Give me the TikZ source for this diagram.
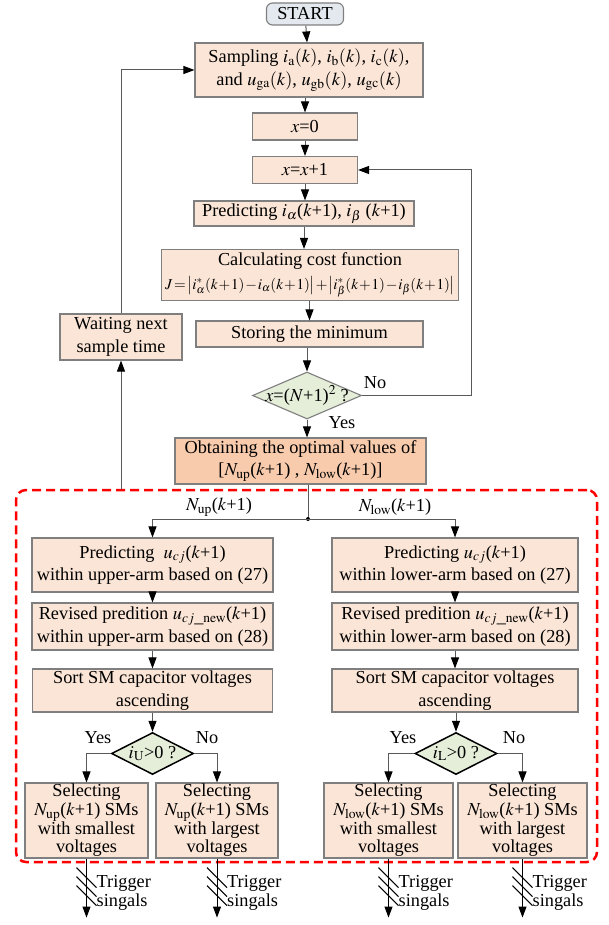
\documentclass[tikz,border=0pt]{standalone}
\usepackage{mathptmx}
\usepackage{fontspec}
\setmainfont{Liberation Serif}
\usetikzlibrary{arrows.meta,shapes.geometric,calc}

\definecolor{boxfill}{HTML}{FBE5D6}
\definecolor{optfill}{HTML}{F8CBAD}
\definecolor{decfill}{HTML}{E5EED9}
\definecolor{startfill}{HTML}{E4E9EF}
\definecolor{edgegray}{HTML}{7F7F7F}
\definecolor{wiregray}{HTML}{595959}
\definecolor{regionred}{HTML}{FF0000}

\newcommand{\fsz}{\fontsize{18.3}{22.5}\selectfont}
\newcommand{\fsel}{\fontsize{18.3}{18.6}\selectfont}
\newcommand{\kpo}{($k$+1)}
\newcommand{\costJ}{{\medmuskip=1mu\thickmuskip=2mu
  $J=\bigl|i_{\alpha}^{*}(k+1)-i_{\alpha}(k+1)\bigr|+\bigl|i_{\beta}^{*}(k+1)-i_{\beta}(k+1)\bigr|$}}

\begin{document}
\begin{tikzpicture}[x=1pt,y=-1pt,
  box/.style={draw=edgegray, fill=boxfill, line width=1.1pt, inner sep=0pt,
              align=center, font=\fsz},
  selbox/.style={box, font=\fsel, minimum height=75pt},
  startbox/.style={draw=edgegray, fill=startfill, line width=1.1pt, rounded corners=6pt,
              inner sep=0pt, minimum width=77pt, minimum height=22pt, font=\fsz},
  dec/.style={diamond, draw=edgegray, fill=decfill, line width=1.1pt, inner sep=0pt},
  decb/.style={dec, draw=black, line width=1.5pt},
  wire/.style={draw=wiregray, line width=1pt},
  arr/.style={wire, -{Triangle[length=11pt,width=8pt,color=black]}},
  trig/.style={draw=black, line width=1pt, -{Triangle[length=11pt,width=8pt,color=black]}},
  lbl/.style={font=\fsz, inner sep=0pt},
  region/.style={draw=regionred, line width=2.5pt, dash pattern=on 9pt off 5pt,
              rounded corners=10pt, inner sep=0pt}
]
\useasboundingbox (0,0) rectangle (609,925);

% ---- main loop ----
\node[startbox] (start) at (305,14) {START};
\node[box, minimum width=228pt, minimum height=54pt] (samp) at (309,70)
  {Sampling $i_{\mathrm{a}}(k)$, $i_{\mathrm{b}}(k)$, $i_{\mathrm{c}}(k)$,\\
   and $u_{\mathrm{ga}}(k)$, $u_{\mathrm{gb}}(k)$, $u_{\mathrm{gc}}(k)$};
\node[box, minimum width=105pt, minimum height=27pt] (xzero) at (305,126.5) {$x$=0};
\node[box, minimum width=105pt, minimum height=27pt] (xinc) at (305,170) {$x$=$x$+1};
\node[box, minimum width=220pt, minimum height=25pt] (pred) at (304,213.5)
  {Predicting $i_{\alpha}$\kpo, $i_{\beta}$ \kpo};
\node[box, minimum width=297pt, minimum height=51pt] (cost) at (310,275)
  {Calculating cost function\\[1pt]
   \resizebox{290pt}{!}{\costJ}};
\node[box, minimum width=227pt, minimum height=26pt] (store) at (309.5,334) {Storing the minimum};
\node[dec, minimum width=109pt, minimum height=47pt] (chk) at (307,395.5) {};
\node[lbl] at (chk) {$x$=($N$+1)$^2$ ?};
\node[box, fill=optfill, minimum width=251pt, minimum height=46pt] (opt) at (300.5,461)
  {Obtaining the optimal values of\\
   \relax[$N_{\mathrm{up}}$\kpo\ , $N_{\mathrm{low}}$\kpo]};
\node[box, minimum width=122pt, minimum height=46pt] (wait) at (121,337)
  {Waiting next\\sample time};

\node[lbl] at (375,383) {No};
\node[lbl] at (342,423) {Yes};

\draw[arr] (start) -- (samp);
\draw[arr] (samp.south -| xzero) -- (xzero);
\draw[arr] (xzero) -- (xinc);
\draw[arr] (xinc.south) -- (xinc.south |- pred.north);
\draw[arr] (pred.south) -- (pred.south |- cost.north);
\draw[arr] (cost.south -| store) -- (store);
\draw[arr] (store.south -| chk) -- (chk);
\draw[arr] (chk.south) -- (chk.south |- opt.north);
\coordinate (loopx) at (471,0);
\draw[arr] (chk.east) -- (chk.east -| loopx) |- (xinc.east);

% ---- arm voltage balancing region ----
\node[region, minimum width=581pt, minimum height=372pt] (zone) at (306.5,676) {};
\draw[arr] (wait.south |- zone.north) -- (wait.south);
\draw[arr] (wait.north) |- (samp.west);

\coordinate (split) at (308,519);
\draw[wire] (split |- opt.south) -- (split);
\fill[black] (split) circle (2pt);

\node[box, minimum width=241pt, minimum height=54pt] (pu) at (152.5,565)
  {Predicting \ $u_{cj}$\kpo\\within upper-arm based on (27)};
\node[box, minimum width=246pt, minimum height=54pt] (pl) at (455,565)
  {Predicting $u_{cj}$\kpo\\within lower-arm based on (27)};
\draw[arr] (split) -| (pu.north);
\draw[arr] (split) -| (pl.north);
\node[lbl] at (219,507) {$N_{\mathrm{up}}$\kpo};
\node[lbl] at (395,507) {$N_{\mathrm{low}}$\kpo};

\node[box, minimum width=241pt, minimum height=47pt] (ru) at (152.5,626.5)
  {Revised predition $u_{cj\_\mathrm{new}}$\kpo\\within upper-arm based on (28)};
\node[box, minimum width=246pt, minimum height=47pt] (rl) at (455,626.5)
  {Revised predition $u_{cj\_\mathrm{new}}$\kpo\\within lower-arm based on (28)};
\node[box, minimum width=240pt, minimum height=43pt] (su) at (152.5,690.5)
  {Sort SM capacitor voltages\\ascending};
\node[box, minimum width=246pt, minimum height=43pt] (sl) at (455,690.5)
  {Sort SM capacitor voltages\\ascending};

\draw[arr] (pu) -- (ru);
\draw[arr] (pl) -- (rl);
\draw[arr] (ru) -- (su);
\draw[arr] (rl) -- (sl);

\node[decb, minimum width=82pt, minimum height=42pt] (du) at (152.5,753.5) {};
\node[lbl] at (du) {$i_{\mathrm{U}}$>0 ?};
\node[decb, minimum width=82pt, minimum height=42pt] (dl) at (456,753.5) {};
\node[lbl] at (dl) {$i_{\mathrm{L}}$>0 ?};
\draw[arr] (su) -- (du);
\draw[arr] (sl.south -| dl) -- (dl);

\node[lbl] at (98,738) {Yes};
\node[lbl] at (207,738) {No};
\node[lbl] at (403,738) {Yes};
\node[lbl] at (514,738) {No};

\node[selbox, minimum width=123pt] (s1) at (86.5,820.5)
  {Selecting\\$N_{\mathrm{up}}$\kpo\ SMs\\with smallest\\voltages};
\node[selbox, minimum width=122pt] (s2) at (217,820.5)
  {Selecting\\$N_{\mathrm{up}}$\kpo\ SMs\\with largest\\voltages};
\node[selbox, minimum width=129pt] (s3) at (388.5,820.5)
  {Selecting\\$N_{\mathrm{low}}$\kpo\ SMs\\with smallest\\voltages};
\node[selbox, minimum width=129pt] (s4) at (522.5,820.5)
  {Selecting\\$N_{\mathrm{low}}$\kpo\ SMs\\with largest\\voltages};

\draw[arr] (du.west) -| (s1.north);
\draw[arr] (du.east) -| (s2.north);
\draw[arr] (dl.west) -| (s3.north);
\draw[arr] (dl.east) -| (s4.north);

% ---- gate signal outputs ----
\foreach \s in {s1,s2,s3,s4}{
  \path (\s.south) ++(0,59) coordinate (\s end);
  \draw[trig] (\s.south) -- (\s end);
  \foreach \dy in {19,28,37}
    \draw[black, line width=1pt] ($(\s.south)+(-10,\dy-10)$) -- ++(20,20);
  \node[font=\fsel, align=left, anchor=west, inner sep=0pt] at ($(\s.south)+(10,34.5)$)
    {Trigger\\singals};
}
\end{tikzpicture}
\end{document}
